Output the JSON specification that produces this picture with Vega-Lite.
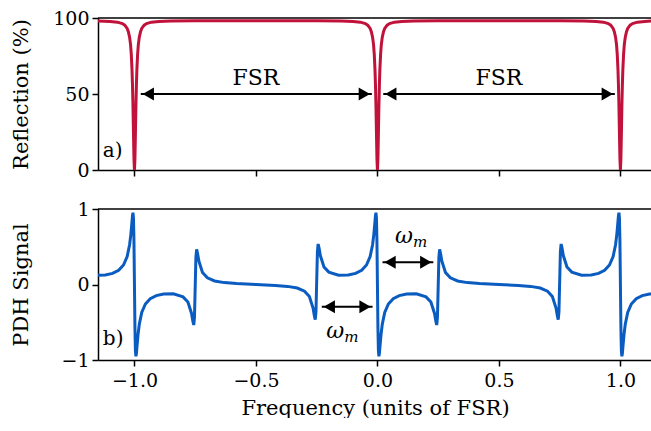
{
  "$schema": "https://vega.github.io/schema/vega-lite/v6.json",
  "padding": {"left": 10, "top": 9, "right": 0, "bottom": 0},
  "spacing": 39,
  "bounds": "flush",
  "config": {
    "view": {"stroke": null},
    "font": "DejaVu Serif",
    "axis": {
      "domainColor": "black", "domainWidth": 1.5,
      "tickColor": "black", "tickWidth": 1.5, "tickSize": 6,
      "labelColor": "black", "labelFont": "DejaVu Serif", "labelFontSize": 19, "labelPadding": 3, "labelOverlap": false,
      "titleFont": "DejaVu Serif", "titleFontSize": 21, "titleFontWeight": "normal", "titleColor": "black",
      "grid": false
    }
  },
  "datasets": {
    "refl": [
      {"x": -1.15, "y": 98.05}, {"x": -1.1, "y": 97.75}, {"x": -1.07, "y": 97.25}, {"x": -1.05, "y": 96.35},
      {"x": -1.04, "y": 95.3}, {"x": -1.03, "y": 93.1}, {"x": -1.025, "y": 91.0}, {"x": -1.02, "y": 87.4},
      {"x": -1.016, "y": 82.45}, {"x": -1.013, "y": 76.05}, {"x": -1.01, "y": 65.9}, {"x": -1.008, "y": 55.6},
      {"x": -1.006, "y": 41.6}, {"x": -1.004, "y": 24.1}, {"x": -1.002, "y": 7.4}, {"x": -1.0, "y": 0},
      {"x": -0.998, "y": 7.4}, {"x": -0.996, "y": 24.1}, {"x": -0.994, "y": 41.6}, {"x": -0.992, "y": 55.6},
      {"x": -0.99, "y": 65.9}, {"x": -0.987, "y": 76.05}, {"x": -0.984, "y": 82.45}, {"x": -0.98, "y": 87.4},
      {"x": -0.975, "y": 91.0}, {"x": -0.97, "y": 93.1}, {"x": -0.96, "y": 95.3}, {"x": -0.95, "y": 96.35},
      {"x": -0.93, "y": 97.25}, {"x": -0.9, "y": 97.75}, {"x": -0.85, "y": 98.05}, {"x": -0.75, "y": 98.15},
      {"x": -0.5, "y": 98.2}, {"x": -0.25, "y": 98.15}, {"x": -0.15, "y": 98.05}, {"x": -0.1, "y": 97.75},
      {"x": -0.07, "y": 97.25}, {"x": -0.05, "y": 96.35}, {"x": -0.04, "y": 95.3}, {"x": -0.03, "y": 93.1},
      {"x": -0.025, "y": 91.0}, {"x": -0.02, "y": 87.4}, {"x": -0.016, "y": 82.45}, {"x": -0.013, "y": 76.05},
      {"x": -0.01, "y": 65.9}, {"x": -0.008, "y": 55.6}, {"x": -0.006, "y": 41.6}, {"x": -0.004, "y": 24.1},
      {"x": -0.002, "y": 7.4}, {"x": 0.0, "y": 0},
      {"x": 0.002, "y": 7.4}, {"x": 0.004, "y": 24.1}, {"x": 0.006, "y": 41.6}, {"x": 0.008, "y": 55.6},
      {"x": 0.01, "y": 65.9}, {"x": 0.013, "y": 76.05}, {"x": 0.016, "y": 82.45}, {"x": 0.02, "y": 87.4},
      {"x": 0.025, "y": 91.0}, {"x": 0.03, "y": 93.1}, {"x": 0.04, "y": 95.3}, {"x": 0.05, "y": 96.35},
      {"x": 0.07, "y": 97.25}, {"x": 0.1, "y": 97.75}, {"x": 0.15, "y": 98.05}, {"x": 0.25, "y": 98.15},
      {"x": 0.5, "y": 98.2}, {"x": 0.75, "y": 98.15}, {"x": 0.85, "y": 98.05}, {"x": 0.9, "y": 97.75},
      {"x": 0.93, "y": 97.25}, {"x": 0.95, "y": 96.35}, {"x": 0.96, "y": 95.3}, {"x": 0.97, "y": 93.1},
      {"x": 0.975, "y": 91.0}, {"x": 0.98, "y": 87.4}, {"x": 0.984, "y": 82.45}, {"x": 0.987, "y": 76.05},
      {"x": 0.99, "y": 65.9}, {"x": 0.992, "y": 55.6}, {"x": 0.994, "y": 41.6}, {"x": 0.996, "y": 24.1},
      {"x": 0.998, "y": 7.4}, {"x": 1.0, "y": 0},
      {"x": 1.002, "y": 7.4}, {"x": 1.004, "y": 24.1}, {"x": 1.006, "y": 41.6}, {"x": 1.008, "y": 55.6},
      {"x": 1.01, "y": 65.9}, {"x": 1.013, "y": 76.05}, {"x": 1.016, "y": 82.45}, {"x": 1.02, "y": 87.4},
      {"x": 1.025, "y": 91.0}, {"x": 1.03, "y": 93.1}, {"x": 1.04, "y": 95.3}, {"x": 1.05, "y": 96.35},
      {"x": 1.07, "y": 97.25}, {"x": 1.1, "y": 97.75}, {"x": 1.13, "y": 98.0}
    ],
    "pdh": [
      {"x": -1.15, "y": 0.123}, {"x": -1.12, "y": 0.126}, {"x": -1.09, "y": 0.147}, {"x": -1.065, "y": 0.188},
      {"x": -1.045, "y": 0.258}, {"x": -1.03, "y": 0.371}, {"x": -1.02, "y": 0.527}, {"x": -1.015, "y": 0.658},
      {"x": -1.011, "y": 0.801}, {"x": -1.008, "y": 0.914}, {"x": -1.006, "y": 0.951}, {"x": -1.004, "y": 0.878},
      {"x": -1.002, "y": 0.570}, {"x": -1.0, "y": 0},
      {"x": -0.998, "y": -0.570}, {"x": -0.996, "y": -0.878}, {"x": -0.994, "y": -0.951}, {"x": -0.992, "y": -0.914},
      {"x": -0.989, "y": -0.801}, {"x": -0.985, "y": -0.658}, {"x": -0.98, "y": -0.527}, {"x": -0.97, "y": -0.371},
      {"x": -0.955, "y": -0.258}, {"x": -0.935, "y": -0.188}, {"x": -0.91, "y": -0.147}, {"x": -0.88, "y": -0.126},
      {"x": -0.84, "y": -0.124}, {"x": -0.8, "y": -0.164}, {"x": -0.78, "y": -0.233}, {"x": -0.765, "y": -0.383},
      {"x": -0.76, "y": -0.479}, {"x": -0.756, "y": -0.537}, {"x": -0.753, "y": -0.436}, {"x": -0.75, "y": -0.036},
      {"x": -0.747, "y": 0.365}, {"x": -0.744, "y": 0.465}, {"x": -0.74, "y": 0.407}, {"x": -0.735, "y": 0.311},
      {"x": -0.72, "y": 0.160}, {"x": -0.7, "y": 0.088}, {"x": -0.67, "y": 0.047}, {"x": -0.63, "y": 0.025},
      {"x": -0.58, "y": 0.012}, {"x": -0.5, "y": 0},
      {"x": -0.42, "y": -0.012}, {"x": -0.37, "y": -0.025}, {"x": -0.33, "y": -0.047}, {"x": -0.3, "y": -0.088},
      {"x": -0.28, "y": -0.160}, {"x": -0.265, "y": -0.311}, {"x": -0.26, "y": -0.407}, {"x": -0.256, "y": -0.465},
      {"x": -0.253, "y": -0.365}, {"x": -0.25, "y": 0.036}, {"x": -0.247, "y": 0.436}, {"x": -0.244, "y": 0.537},
      {"x": -0.24, "y": 0.479}, {"x": -0.235, "y": 0.383}, {"x": -0.22, "y": 0.233}, {"x": -0.2, "y": 0.164},
      {"x": -0.16, "y": 0.124}, {"x": -0.12, "y": 0.126}, {"x": -0.09, "y": 0.147}, {"x": -0.065, "y": 0.188},
      {"x": -0.045, "y": 0.258}, {"x": -0.03, "y": 0.371}, {"x": -0.02, "y": 0.527}, {"x": -0.015, "y": 0.658},
      {"x": -0.011, "y": 0.801}, {"x": -0.008, "y": 0.914}, {"x": -0.006, "y": 0.951}, {"x": -0.004, "y": 0.878},
      {"x": -0.002, "y": 0.570}, {"x": 0.0, "y": 0},
      {"x": 0.002, "y": -0.570}, {"x": 0.004, "y": -0.878}, {"x": 0.006, "y": -0.951}, {"x": 0.008, "y": -0.914},
      {"x": 0.011, "y": -0.801}, {"x": 0.015, "y": -0.658}, {"x": 0.02, "y": -0.527}, {"x": 0.03, "y": -0.371},
      {"x": 0.045, "y": -0.258}, {"x": 0.065, "y": -0.188}, {"x": 0.09, "y": -0.147}, {"x": 0.12, "y": -0.126},
      {"x": 0.16, "y": -0.124}, {"x": 0.2, "y": -0.164}, {"x": 0.22, "y": -0.233}, {"x": 0.235, "y": -0.383},
      {"x": 0.24, "y": -0.479}, {"x": 0.244, "y": -0.537}, {"x": 0.247, "y": -0.436}, {"x": 0.25, "y": -0.036},
      {"x": 0.253, "y": 0.365}, {"x": 0.256, "y": 0.465}, {"x": 0.26, "y": 0.407}, {"x": 0.265, "y": 0.311},
      {"x": 0.28, "y": 0.160}, {"x": 0.3, "y": 0.088}, {"x": 0.33, "y": 0.047}, {"x": 0.37, "y": 0.025},
      {"x": 0.42, "y": 0.012}, {"x": 0.5, "y": 0},
      {"x": 0.58, "y": -0.012}, {"x": 0.63, "y": -0.025}, {"x": 0.67, "y": -0.047}, {"x": 0.7, "y": -0.088},
      {"x": 0.72, "y": -0.160}, {"x": 0.735, "y": -0.311}, {"x": 0.74, "y": -0.407}, {"x": 0.744, "y": -0.465},
      {"x": 0.747, "y": -0.365}, {"x": 0.75, "y": 0.036}, {"x": 0.753, "y": 0.436}, {"x": 0.756, "y": 0.537},
      {"x": 0.76, "y": 0.479}, {"x": 0.765, "y": 0.383}, {"x": 0.78, "y": 0.233}, {"x": 0.8, "y": 0.164},
      {"x": 0.84, "y": 0.124}, {"x": 0.88, "y": 0.126}, {"x": 0.91, "y": 0.147}, {"x": 0.935, "y": 0.188},
      {"x": 0.955, "y": 0.258}, {"x": 0.97, "y": 0.371}, {"x": 0.98, "y": 0.527}, {"x": 0.985, "y": 0.658},
      {"x": 0.989, "y": 0.801}, {"x": 0.992, "y": 0.914}, {"x": 0.994, "y": 0.951}, {"x": 0.996, "y": 0.878},
      {"x": 0.998, "y": 0.570}, {"x": 1.0, "y": 0},
      {"x": 1.002, "y": -0.570}, {"x": 1.004, "y": -0.878}, {"x": 1.006, "y": -0.951}, {"x": 1.008, "y": -0.914},
      {"x": 1.011, "y": -0.801}, {"x": 1.015, "y": -0.658}, {"x": 1.02, "y": -0.527}, {"x": 1.03, "y": -0.371},
      {"x": 1.045, "y": -0.258}, {"x": 1.065, "y": -0.188}, {"x": 1.09, "y": -0.147}, {"x": 1.12, "y": -0.126},
      {"x": 1.13, "y": -0.125}
    ],
    "fsr_arrows": [
      {"seg": 1, "x": -0.974, "y": 50}, {"seg": 1, "x": -0.023, "y": 50},
      {"seg": 2, "x": 0.024, "y": 50}, {"seg": 2, "x": 0.977, "y": 50}
    ],
    "fsr_heads": [
      {"x": -0.943, "y": 50, "dir": "left"}, {"x": -0.054, "y": 50, "dir": "right"},
      {"x": 0.055, "y": 50, "dir": "left"}, {"x": 0.946, "y": 50, "dir": "right"}
    ],
    "fsr_text": [
      {"x": -0.5, "y": 56.0, "t": "FSR"}, {"x": 0.5, "y": 56.0, "t": "FSR"}
    ],
    "wm_arrows": [
      {"seg": 1, "x": -0.229, "y": -0.294}, {"seg": 1, "x": -0.02, "y": -0.294},
      {"seg": 2, "x": 0.021, "y": 0.294}, {"seg": 2, "x": 0.23, "y": 0.294}
    ],
    "wm_heads": [
      {"x": -0.198, "y": -0.294, "dir": "left"}, {"x": -0.051, "y": -0.294, "dir": "right"},
      {"x": 0.052, "y": 0.294, "dir": "left"}, {"x": 0.199, "y": 0.294, "dir": "right"}
    ],
    "wm_text": [
      {"x": -0.137, "y": -0.713, "sym": "ω", "sub": "m"},
      {"x": 0.146, "y": 0.546, "sym": "ω", "sub": "m"}
    ],
    "panel_a": [{"x": -1.13, "y": 8.5, "t": "a)"}],
    "panel_b": [{"x": -1.13, "y": -0.8, "t": "b)"}],
    "spine_a": [{"y": 100}],
    "spine_b": [{"y": 1}]
  },
  "vconcat": [
    {
      "width": 554,
      "height": 152,
      "layer": [
        {
          "data": {"name": "refl"},
          "mark": {"type": "line", "color": "#C0123A", "strokeWidth": 3, "clip": true},
          "encoding": {
            "x": {"field": "x", "type": "quantitative",
                  "scale": {"domain": [-1.15, 1.13], "nice": false, "zero": false},
                  "axis": {"orient": "bottom", "values": [-1, -0.5, 0, 0.5, 1], "labels": false, "title": null}},
            "y": {"field": "y", "type": "quantitative",
                  "scale": {"domain": [0, 100], "nice": false},
                  "axis": {"values": [0, 50, 100], "format": ".0f", "title": "Reflection (%)", "titleX": -67, "titleY": 76}}
          }
        },
        {
          "data": {"name": "spine_a"},
          "mark": {"type": "rule", "color": "black", "strokeWidth": 1.5},
          "encoding": {"y": {"field": "y", "type": "quantitative"}}
        },
        {
          "data": {"name": "fsr_arrows"},
          "mark": {"type": "line", "color": "black", "strokeWidth": 2},
          "encoding": {
            "x": {"field": "x", "type": "quantitative"},
            "y": {"field": "y", "type": "quantitative"},
            "detail": {"field": "seg"}
          }
        },
        {
          "data": {"name": "fsr_heads"},
          "mark": {"type": "point", "filled": true, "color": "black", "opacity": 1, "size": 170},
          "encoding": {
            "x": {"field": "x", "type": "quantitative"},
            "y": {"field": "y", "type": "quantitative"},
            "shape": {"field": "dir", "type": "nominal", "scale": {"domain": ["left", "right"], "range": ["triangle-left", "triangle-right"]}, "legend": null}
          }
        },
        {
          "data": {"name": "fsr_text"},
          "mark": {"type": "text", "fontSize": 22, "font": "DejaVu Serif", "color": "black", "align": "center", "baseline": "alphabetic"},
          "encoding": {
            "x": {"field": "x", "type": "quantitative"},
            "y": {"field": "y", "type": "quantitative"},
            "text": {"field": "t"}
          }
        },
        {
          "data": {"name": "panel_a"},
          "mark": {"type": "text", "fontSize": 20, "font": "DejaVu Serif", "color": "black", "align": "left", "baseline": "alphabetic"},
          "encoding": {
            "x": {"field": "x", "type": "quantitative"},
            "y": {"field": "y", "type": "quantitative"},
            "text": {"field": "t"}
          }
        }
      ]
    },
    {
      "width": 554,
      "height": 151,
      "layer": [
        {
          "data": {"name": "pdh"},
          "mark": {"type": "line", "color": "#0B5CC0", "strokeWidth": 3, "clip": true},
          "encoding": {
            "x": {"field": "x", "type": "quantitative",
                  "scale": {"domain": [-1.15, 1.13], "nice": false, "zero": false},
                  "axis": {"orient": "bottom", "values": [-1, -0.5, 0, 0.5, 1], "format": ".1f", "title": "Frequency (units of FSR)", "labelPadding": 5, "titlePadding": 7}},
            "y": {"field": "y", "type": "quantitative",
                  "scale": {"domain": [-1, 1], "nice": false},
                  "axis": {"values": [-1, 0, 1], "format": ".0f", "title": "PDH Signal", "titleX": -67, "titleY": 75.5}}
          }
        },
        {
          "data": {"name": "spine_b"},
          "mark": {"type": "rule", "color": "black", "strokeWidth": 1.5},
          "encoding": {"y": {"field": "y", "type": "quantitative"}}
        },
        {
          "data": {"name": "wm_arrows"},
          "mark": {"type": "line", "color": "black", "strokeWidth": 2},
          "encoding": {
            "x": {"field": "x", "type": "quantitative"},
            "y": {"field": "y", "type": "quantitative"},
            "detail": {"field": "seg"}
          }
        },
        {
          "data": {"name": "wm_heads"},
          "mark": {"type": "point", "filled": true, "color": "black", "opacity": 1, "size": 170},
          "encoding": {
            "x": {"field": "x", "type": "quantitative"},
            "y": {"field": "y", "type": "quantitative"},
            "shape": {"field": "dir", "type": "nominal", "scale": {"domain": ["left", "right"], "range": ["triangle-left", "triangle-right"]}, "legend": null}
          }
        },
        {
          "data": {"name": "wm_text"},
          "mark": {"type": "text", "fontSize": 22, "font": "DejaVu Serif", "fontStyle": "italic", "color": "black", "align": "right", "baseline": "alphabetic"},
          "encoding": {
            "x": {"field": "x", "type": "quantitative"},
            "y": {"field": "y", "type": "quantitative"},
            "text": {"field": "sym"}
          }
        },
        {
          "data": {"name": "wm_text"},
          "mark": {"type": "text", "fontSize": 15, "font": "DejaVu Serif", "fontStyle": "italic", "color": "black", "align": "left", "baseline": "alphabetic", "dy": 4},
          "encoding": {
            "x": {"field": "x", "type": "quantitative"},
            "y": {"field": "y", "type": "quantitative"},
            "text": {"field": "sub"}
          }
        },
        {
          "data": {"name": "panel_b"},
          "mark": {"type": "text", "fontSize": 20, "font": "DejaVu Serif", "color": "black", "align": "left", "baseline": "alphabetic"},
          "encoding": {
            "x": {"field": "x", "type": "quantitative"},
            "y": {"field": "y", "type": "quantitative"},
            "text": {"field": "t"}
          }
        }
      ]
    }
  ]
}
